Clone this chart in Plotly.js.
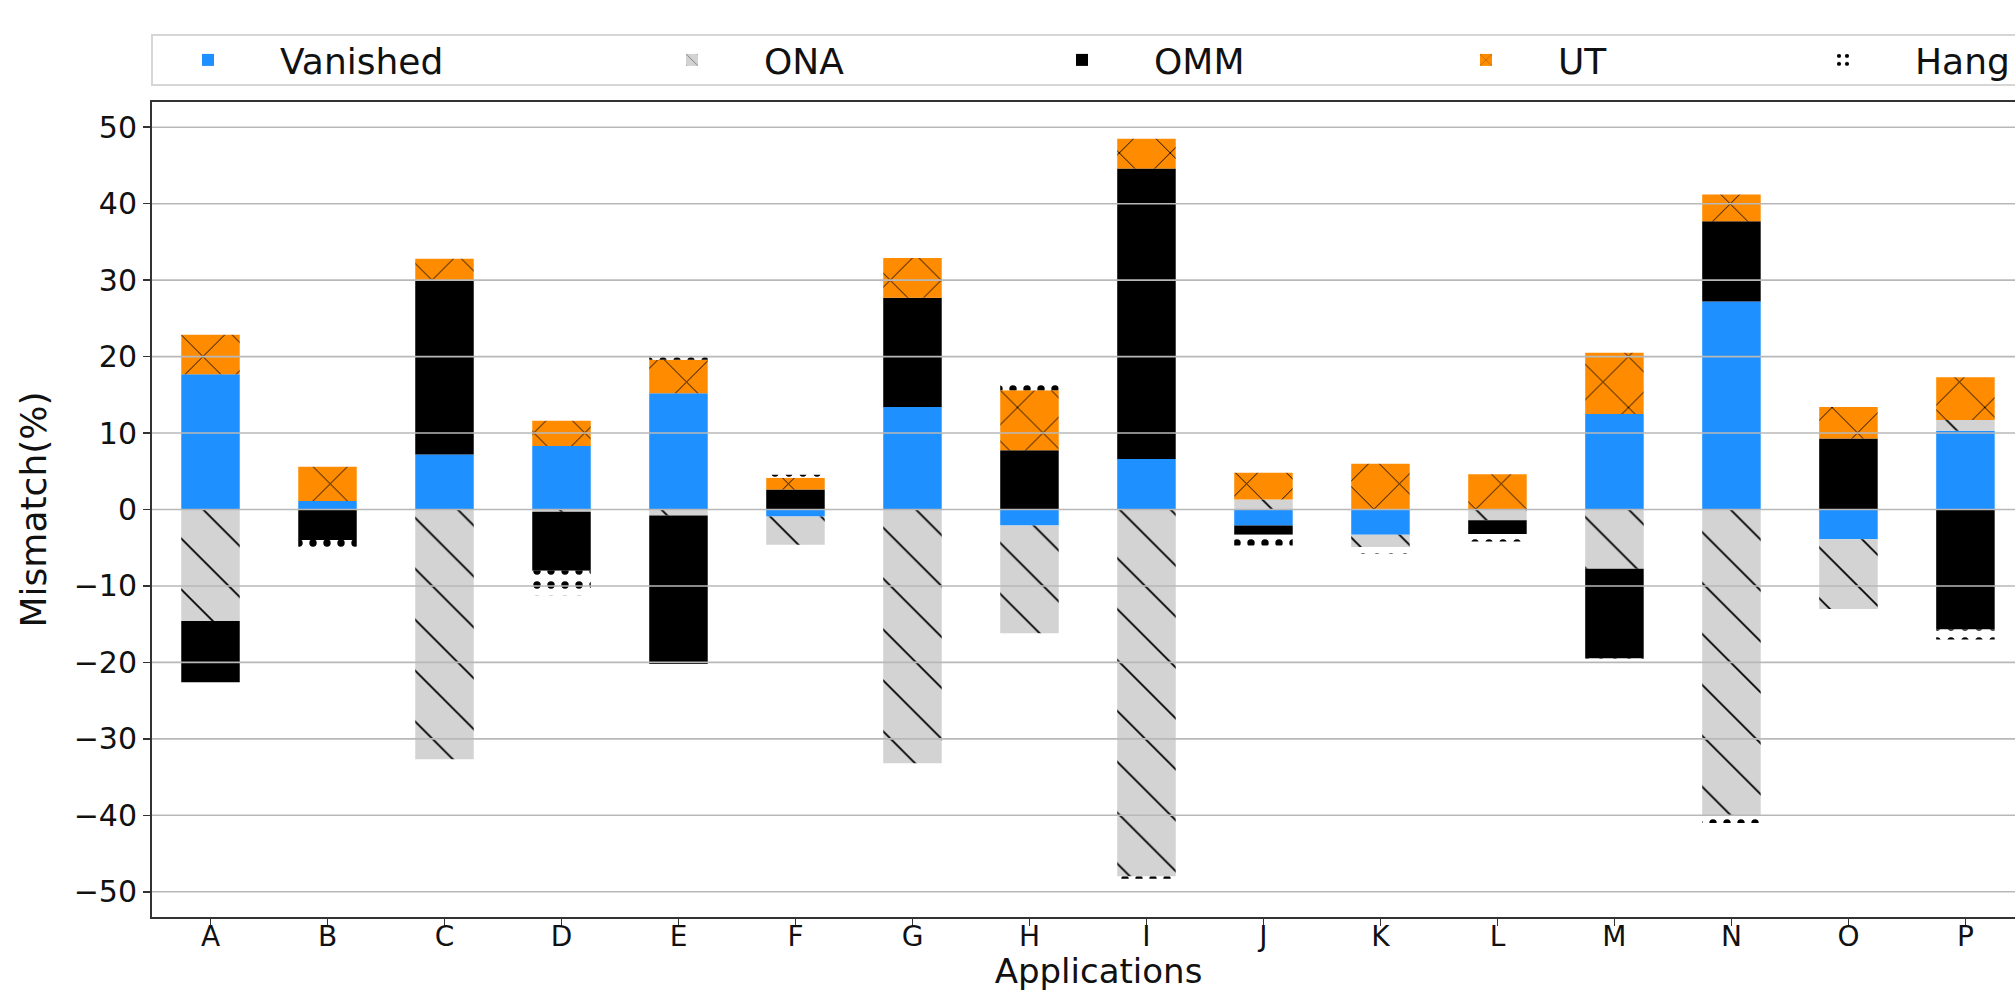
<!DOCTYPE html>
<html>
<head>
<meta charset="utf-8">
<script src="https://cdn.plot.ly/plotly-3.0.1.min.js"></script>
<style>
  html, body { margin: 0; padding: 0; overflow: hidden; background: #ffffff; }
  #chart { width: 2400px; height: 991px; }
</style>
</head>
<body>
<div id="chart"></div>
<script>
// ---- data ----
const applications = ["A","B","C","D","E","F","G","H","I","J","K","L","M","N","O","P"];
const vanished = [17.7, 1.1, 7.2, 8.3, 15.2, -0.9, 13.4, -2.1, 6.6, -2.1, -3.3, 0, 12.5, 27.2, -3.9, 10.3];
const ona      = [-14.6, 0, -32.7, -0.3, -0.8, -3.7, -33.2, -14.1, -48.0, 1.3, -1.6, -1.4, -7.75, -40.0, -9.1, 1.4];
const omm      = [-8.0, -4.0, 22.7, -7.7, -19.4, 2.6, 14.3, 7.75, 38.0, -1.2, 0, -1.8, -11.75, 10.5, 9.3, -15.7];
const ut       = [5.15, 4.5, 2.9, 3.3, 4.4, 1.55, 5.2, 7.85, 3.9, 3.5, 6.0, 4.6, 8.0, 3.5, 4.1, 5.6];
const hang     = [0, -1.3, -0.3, -3.2, 0.6, 0.4, 0.5, 0.7, -0.3, -1.4, -0.9, -1.0, -0.4, -1.0, 0, -1.3];
const yTickVals = [-50, -40, -30, -20, -10, 0, 10, 20, 30, 40, 50];
const seriesNames = ["Vanished", "ONA", "OMM", "UT", "Hang"];

const FONT = "DejaVu Sans, Verdana, sans-serif";

function barTrace(i, values, bg, shape, fg, size, solidity) {
  const marker = { color: bg, line: { width: 0 } };
  if (shape) {
    marker.pattern = { shape: shape, fgcolor: fg, bgcolor: bg, size: size, solidity: solidity, fillmode: "replace" };
  }
  return {
    type: "bar", name: seriesNames[i], x: applications, y: values, marker: marker,
    legend: i === 0 ? "legend" : "legend" + (i + 1),
    hoverinfo: "x+y+name"
  };
}

const traces = [
  barTrace(0, vanished, "#1E90FF"),
  barTrace(1, ona, "#D3D3D3", "\\", "#000000", 36, 0.05),
  barTrace(2, omm, "#000000"),
  barTrace(3, ut, "#FF8C00", "x", "#000000", 36, 0.05),
  barTrace(4, hang, "#FFFFFF", ".", "#000000", 14, 0.22)
];

const gridShapes = yTickVals.map(v => ({
  type: "line", xref: "paper", yref: "y", x0: 0, x1: 1, y0: v, y1: v,
  line: { color: "#b8b8b8", width: 1.6 }, layer: "above"
}));

// plot area: 152 .. 2045 px wide, 102 .. 917 px tall
const PW = 2045 - 152, PH = 917 - 102;
const px2x = p => (p - 152) / PW;
const py2y = p => (917 - p) / PH;

// legend frame (one box behind the five legend entries)
const legendFrame = {
  type: "rect", xref: "paper", yref: "paper",
  x0: 0, x1: 1.2, y0: py2y(85), y1: py2y(35),
  line: { color: "#d6d6d6", width: 2 }, fillcolor: "#ffffff", layer: "below"
};

const legendLeftPx = [136, 620, 1010, 1414, 1771];
function legendBox(p) {
  return {
    orientation: "h",
    x: px2x(p), xanchor: "left",
    y: py2y(60), yanchor: "middle",
    itemwidth: 134,
    borderwidth: 0,
    bgcolor: "rgba(0,0,0,0)",
    font: { family: FONT, size: 36, color: "#111111" }
  };
}

const layout = {
  width: 2400,
  height: 991,
  margin: { l: 152, r: 2400 - 2045, t: 102, b: 991 - 917, pad: 0 },
  paper_bgcolor: "#ffffff",
  plot_bgcolor: "#ffffff",
  font: { family: FONT, color: "#111111", size: 30 },
  barmode: "relative",
  bargap: 0.5,
  showlegend: true,
  legend: legendBox(legendLeftPx[0]),
  legend2: legendBox(legendLeftPx[1]),
  legend3: legendBox(legendLeftPx[2]),
  legend4: legendBox(legendLeftPx[3]),
  legend5: legendBox(legendLeftPx[4]),
  xaxis: {
    type: "category",
    range: [-0.5, 15.68],
    showgrid: false,
    zeroline: false,
    showline: true, mirror: true, linecolor: "#333333", linewidth: 2,
    ticks: "outside", ticklen: 7, tickwidth: 1.5, tickcolor: "#333333",
    ticklabelstandoff: -14,
    tickfont: { family: FONT, size: 28, color: "#111111" },
    title: { text: "Applications", font: { family: FONT, size: 34, color: "#111111" }, standoff: 30 }
  },
  yaxis: {
    range: [-53.3, 53.3],
    tickvals: yTickVals,
    showgrid: false,
    zeroline: false,
    showline: true, mirror: true, linecolor: "#333333", linewidth: 2,
    ticks: "outside", ticklen: 7, tickwidth: 1.5, tickcolor: "#333333",
    tickfont: { family: FONT, size: 30, color: "#111111" },
    title: { text: "Mismatch(%)", font: { family: FONT, size: 36, color: "#111111" }, standoff: 16 }
  },
  shapes: [legendFrame].concat(gridShapes)
};

Plotly.newPlot("chart", traces, layout, { displayModeBar: false, staticPlot: true });
</script>
</body>
</html>
